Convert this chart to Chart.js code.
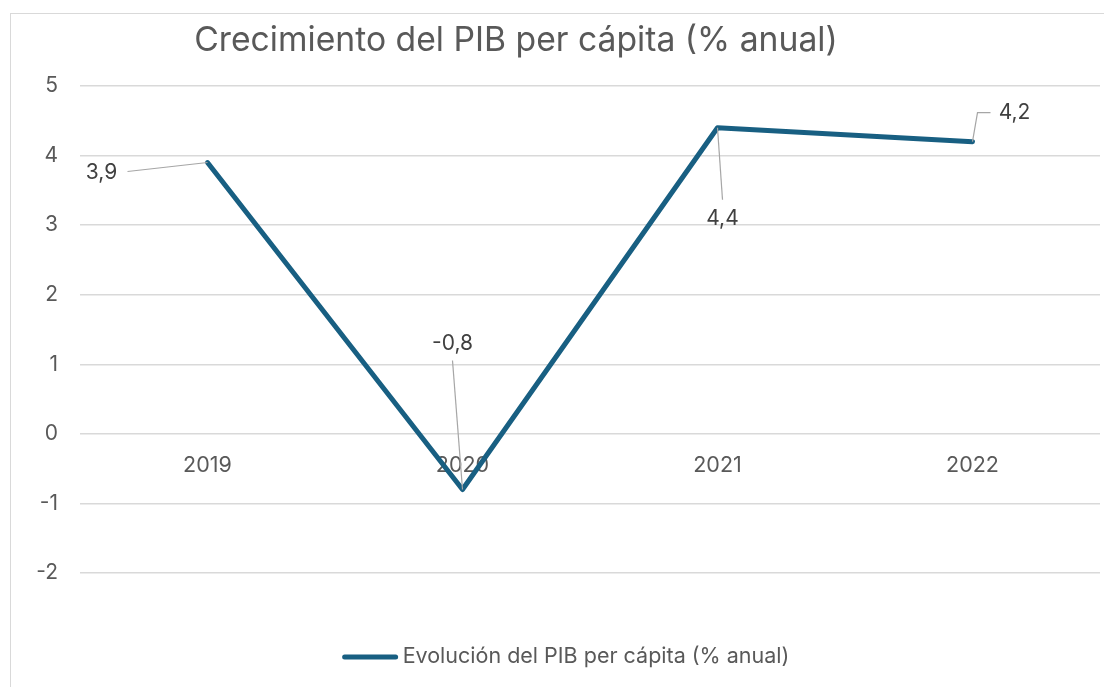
<!DOCTYPE html>
<html>
<head>
<meta charset="utf-8">
<script src="https://cdn.jsdelivr.net/npm/chart.js@4.4.0/dist/chart.umd.min.js"></script>
<style>
  html, body { margin: 0; padding: 0; background: #fff; overflow: hidden; }
  #frame { position: absolute; left: 10px; top: 13px; width: 1120px; height: 700px;
           border: 1.5px solid #d9d9d9; box-sizing: border-box; }
  #wrap { position: absolute; left: 0; top: 0; width: 1104px; height: 687px; }
</style>
</head>
<body>
<div id="frame"></div>
<div id="wrap"><canvas id="c"></canvas></div>
<script>
// datos
const years = ['2019', '2020', '2021', '2022'];
const pibPerCapita = [3.9, -0.8, 4.4, 4.2];
const yMin = -2, yMax = 5, yStep = 1;

const TITLE = 'Crecimiento del PIB per cápita (% anual)';
const SERIES = 'Evolución del PIB per cápita (% anual)';
const LINE = '#185F82';
const FONT = 'Inter, "Open Sans", sans-serif';
const fmt = v => v.toFixed(1).replace('.', ',');

// etiquetas de datos con línea guía (desplazamientos respecto al punto)
const labelLayout = [
  { text: [-106, 10], lead: [[-80, 9]] },
  { text: [-10, -146], lead: [[-10, -129]] },
  { text: [5, 91], lead: [[5, 72]] },
  { text: [42, -29], lead: [[5, -29], [18, -29]] }
];

const dataLabels = {
  id: 'dataLabels',
  afterDatasetsDraw(chart) {
    const ctx = chart.ctx;
    const meta = chart.getDatasetMeta(0);
    ctx.save();
    meta.data.forEach((pt, i) => {
      const L = labelLayout[i];
      ctx.strokeStyle = '#a6a6a6';
      ctx.lineWidth = 1.2;
      ctx.beginPath();
      ctx.moveTo(pt.x, pt.y);
      L.lead.forEach(p => ctx.lineTo(pt.x + p[0], pt.y + p[1]));
      ctx.stroke();
      ctx.fillStyle = '#404040';
      ctx.font = '21px ' + FONT;
      ctx.textAlign = 'center';
      ctx.textBaseline = 'middle';
      ctx.fillText(fmt(pibPerCapita[i]), pt.x + L.text[0], pt.y + L.text[1]);
    });
    ctx.restore();
  }
};

const titleAndLegend = {
  id: 'titleAndLegend',
  afterDraw(chart) {
    const ctx = chart.ctx;
    ctx.save();
    ctx.fillStyle = '#595959';
    ctx.font = '33.7px ' + FONT;
    ctx.textAlign = 'center';
    ctx.textBaseline = 'middle';
    ctx.fillText(TITLE, 516, 41);

    ctx.font = '21.5px ' + FONT;
    const tw = ctx.measureText(SERIES).width;
    const total = 55 + 5 + tw;
    const x0 = 566 - total / 2, y = 657;
    ctx.strokeStyle = LINE;
    ctx.lineWidth = 5;
    ctx.lineCap = 'round';
    ctx.beginPath();
    ctx.moveTo(x0 + 2, y);
    ctx.lineTo(x0 + 53, y);
    ctx.stroke();
    ctx.textAlign = 'left';
    ctx.fillText(SERIES, x0 + 60, y);
    ctx.restore();
  }
};

new Chart(document.getElementById('c'), {
  type: 'line',
  data: {
    labels: years,
    datasets: [{
      label: SERIES,
      data: pibPerCapita,
      borderColor: LINE,
      backgroundColor: LINE,
      borderWidth: 5,
      pointRadius: 0,
      tension: 0,
      borderCapStyle: 'round',
      borderJoinStyle: 'round'
    }]
  },
  options: {
    responsive: true,
    maintainAspectRatio: false,
    animation: false,
    layout: { padding: { left: 0, right: 4, top: 86, bottom: 114 } },
    plugins: {
      legend: { display: false },
      title: { display: false },
      tooltip: { enabled: false }
    },
    scales: {
      x: {
        position: { y: 0 },
        offset: true,
        z: 1,
        grid: { display: false, drawTicks: false },
        border: { display: false },
        ticks: { color: '#595959', font: { size: 21.5, family: FONT }, padding: 19 }
      },
      y: {
        min: yMin, max: yMax,
        afterFit(scale) { scale.width = 80; },
        grid: { color: '#d9d9d9', lineWidth: 1.5, drawTicks: false },
        border: { display: false },
        ticks: { stepSize: yStep, color: '#595959', font: { size: 21, family: FONT }, padding: 22,
                 callback: v => String(v) }
      }
    }
  },
  plugins: [dataLabels, titleAndLegend]
});
</script>
</body>
</html>
